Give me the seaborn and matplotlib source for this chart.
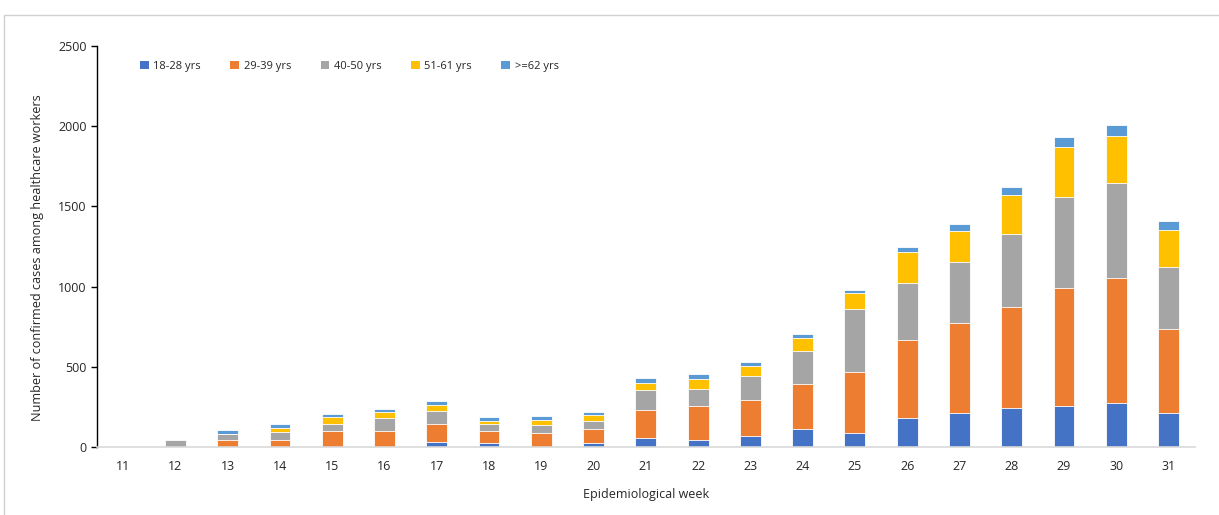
import numpy as np
import pandas as pd
import matplotlib
matplotlib.use("Agg")
import matplotlib.pyplot as plt
import seaborn as sns
from matplotlib.patches import Rectangle, Patch

# data
weeks = ["11", "12", "13", "14", "15", "16", "17", "18", "19", "20", "21",
         "22", "23", "24", "25", "26", "27", "28", "29", "30", "31"]
age_groups = ["18-28 yrs", "29-39 yrs", "40-50 yrs", "51-61 yrs", ">=62 yrs"]
age_18_28 = [0, 0, 0, 0, 0, 0, 33, 25, 0, 25, 54, 42, 67, 110, 85, 179, 212, 241, 254, 272, 214]
age_29_39 = [0, 0, 46, 46, 100, 102, 108, 73, 87, 89, 175, 212, 224, 281, 381, 488, 559, 630, 739, 784, 524]
age_40_50 = [0, 42, 33, 50, 46, 79, 81, 47, 48, 46, 124, 106, 152, 206, 394, 357, 384, 457, 564, 588, 386]
age_51_61 = [2, 0, 0, 25, 41, 35, 38, 19, 31, 41, 48, 66, 64, 85, 100, 192, 192, 243, 313, 295, 227]
age_62_up = [0, 0, 29, 25, 17, 19, 29, 23, 27, 15, 27, 29, 21, 22, 19, 33, 43, 50, 61, 68, 58]
colors = ["#4472C4", "#ED7D31", "#A5A5A5", "#FFC000", "#5B9BD5"]

df = pd.DataFrame({"week": weeks, "18-28 yrs": age_18_28, "29-39 yrs": age_29_39,
                   "40-50 yrs": age_40_50, "51-61 yrs": age_51_61, ">=62 yrs": age_62_up})
cum = df[age_groups].cumsum(axis=1)

sns.set_style("white")
plt.rcParams["font.family"] = ["Open Sans", "DejaVu Sans"]

fig = plt.figure(figsize=(12.19, 5.15), dpi=100)
ax = fig.add_axes([0.0796, 0.132, 0.9004, 0.779])

# stacked bars: draw cumulative totals from the top layer down
for i in reversed(range(len(age_groups))):
    sns.barplot(x=df["week"], y=cum[age_groups[i]], color=colors[i], order=weeks,
                width=0.4, saturation=1, edgecolor="white", linewidth=0.6, ax=ax)

ax.set_ylim(0, 2500)
ax.set_xlim(-0.5, len(weeks) - 0.5)
ax.set_yticks(range(0, 2501, 500))
ax.set_xlabel("Epidemiological week", fontsize=9, labelpad=11)
ax.set_ylabel("Number of confirmed cases among healthcare workers", fontsize=9.1)
ax.yaxis.set_label_coords(-0.0486, 0.471)
ax.tick_params(axis="both", labelsize=9)
ax.tick_params(axis="y", length=4, width=1, color="black", direction="out", left=True)
ax.tick_params(axis="x", length=0, pad=9)

for s in ["top", "right"]:
    ax.spines[s].set_visible(False)
ax.spines["left"].set_color("black")
ax.spines["left"].set_linewidth(1)
ax.spines["bottom"].set_color("#d9d9d9")
ax.spines["bottom"].set_linewidth(1.2)

handles = [Patch(facecolor=c, edgecolor="none") for c in colors]
ax.legend(handles, age_groups, loc="upper left", bbox_to_anchor=(0.03, 0.988), ncol=5,
          frameon=False, fontsize=8, handlelength=0.8, handleheight=0.8,
          handletextpad=0.4, columnspacing=2.65)

# light chart-area border like the source
fig.patches.append(Rectangle((4 / 1219, -0.1), 1.1, (515 - 15) / 515 + 0.1,
                             transform=fig.transFigure, fill=False,
                             edgecolor="#d0d0d0", linewidth=1))

fig.savefig("out.png", dpi=100)
